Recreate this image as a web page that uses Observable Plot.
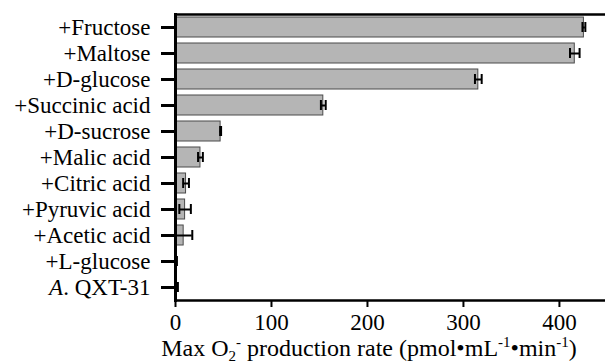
<!DOCTYPE html>
<html><head><meta charset="utf-8">
<script src="https://cdn.jsdelivr.net/npm/d3@7"></script>
<script src="https://cdn.jsdelivr.net/npm/@observablehq/plot@0.6"></script>
<style>body{margin:0;background:#fff} svg text{font-family:'Liberation Serif','Times New Roman',serif}</style>
</head><body><div id="chart"></div>
<script>
const categories = ["+Fructose","+Maltose","+D-glucose","+Succinic acid","+D-sucrose","+Malic acid","+Citric acid","+Pyruvic acid","+Acetic acid","+L-glucose","A. QXT-31"];
const values = [425.5, 416, 315.5, 154, 47, 26, 11, 10, 8.5, 1, 1.5];
const errors = [1.5, 5, 3.5, 2.5, 0.5, 2.5, 3, 6, 9, 0.5, 1];
const xTicks = [0, 100, 200, 300, 400];

const data = categories.map((c, i) => ({cat: c, v: values[i], e: errors[i]}));
const font = "Liberation Serif";
const fs = 23;

const svg = Plot.plot({
  width: 605, height: 363,
  marginLeft: 175, marginRight: 0, marginTop: 14, marginBottom: 63,
  style: {fontFamily: font, fontSize: fs + "px", color: "#000", background: "#fff"},
  x: {domain: [0, 448], label: null},
  y: {domain: categories, paddingInner: 0.23, paddingOuter: 0.115, label: null},
  marks: [
    Plot.barX(data, {x: "v", y: "cat", fill: "#b5b5b5", stroke: "#4a4a4a", strokeWidth: 1}),
    Plot.ruleY(data, {y: "cat", x1: d => d.v - d.e, x2: d => d.v + d.e, stroke: "#000", strokeWidth: 2}),
    Plot.tickX(data, {x: d => d.v - d.e, y: "cat", stroke: "#000", strokeWidth: 2, insetTop: 5, insetBottom: 5}),
    Plot.tickX(data, {x: d => d.v + d.e, y: "cat", stroke: "#000", strokeWidth: 2, insetTop: 5, insetBottom: 5}),
    Plot.axisX({ticks: xTicks, tickSize: 7, tickPadding: 6, strokeWidth: 2, label: null, fontFamily: font, fontSize: fs}),
    Plot.axisY({tickSize: 14, tickPadding: 11, strokeWidth: 3, label: null, fontFamily: font, fontSize: fs}),
    Plot.frame({anchor: "top", strokeWidth: 2.5}),
    Plot.frame({anchor: "bottom", strokeWidth: 2.5}),
    Plot.frame({anchor: "left", strokeWidth: 3})
  ]
});

const s = d3.select(svg);
s.style("font-family", font).style("font-size", fs + "px");
// italic A in strain label
s.selectAll("text").filter(function(){ return this.textContent === "A. QXT-31"; }).each(function(){
  const t = d3.select(this);
  t.text(null);
  t.append("tspan").attr("font-style", "italic").text("A");
  t.append("tspan").text(". QXT-31");
});
// x-axis title with sub/superscripts
const tfs = 24;
const title = s.append("text")
  .attr("x", 369).attr("y", 356)
  .attr("text-anchor", "middle")
  .attr("font-family", font).attr("font-size", tfs).attr("fill", "#000");
const parts = [
  ["Max O", 0, tfs], ["2", 5, 15], ["-", -14, 15], [" production rate (pmol•mL", 9, tfs],
  ["-1", -9, 15], ["•min", 9, tfs], ["-1", -9, 15], [")", 9, tfs]
];
parts.forEach(([txt, dy, size]) => {
  title.append("tspan").attr("dy", dy).attr("font-size", size).text(txt);
});
document.getElementById("chart").appendChild(svg);
</script>
</body></html>
